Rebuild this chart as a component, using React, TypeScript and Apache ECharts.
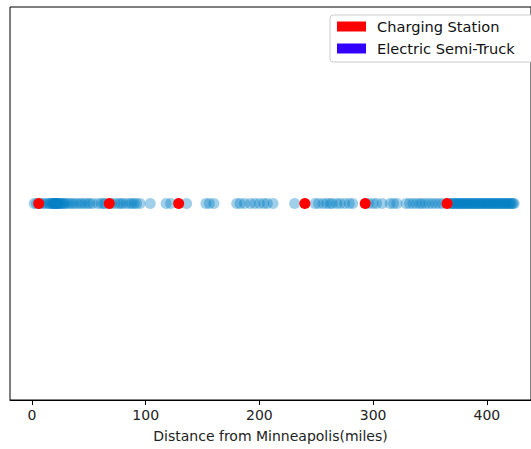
import React, { useEffect, useRef } from "react";
import * as echarts from "echarts";

const stationMiles: number[] = [6, 68, 129, 240, 293, 365];

const truckMiles: number[] = [
  2, 4, 6.5, 9, 11, 13, 15, 16, 17, 18, 18.5, 19, 20, 20.5, 21, 21.5, 22, 22.5, 23, 24,
  25, 25.5, 27, 28, 29, 31, 33, 35,
  37, 39.5, 42, 44, 46.5, 49, 51, 53.5, 58, 61, 63, 64.5,
  70, 73, 76, 78, 80, 83, 86, 88, 90, 92, 95, 104, 118, 122, 136,
  153, 156, 160, 180, 183, 187, 192, 196, 200, 204, 207, 212, 231,
  249, 252, 256, 259, 262, 264, 268, 271, 275, 279, 282,
  296, 300, 303, 308, 315, 318, 321, 329, 332, 335, 338, 341, 343, 346, 349, 352, 355, 358, 361,
  368, 369, 370, 371, 372, 373, 374, 375, 376, 377, 378, 379, 380, 381, 382, 383, 384,
  385, 386, 387, 388, 389, 390, 391, 392, 393, 394, 395, 396, 397, 398, 399, 400,
  401, 402, 403, 404, 405, 406, 407, 408, 409, 410, 411, 412, 413, 414, 415, 416,
  417, 418, 419, 420, 421, 422, 423, 424,
];

const xTicks: number[] = [0, 100, 200, 300, 400];
const xLabel = "Distance from Minneapolis(miles)";
const seriesNames = ["Charging Station", "Electric Semi-Truck"];

export default function App() {
  const ref = useRef<HTMLDivElement>(null);
  useEffect(() => {
    document.body.style.margin = "0";
    if (!ref.current) return;
    const chart = echarts.init(ref.current, undefined, { renderer: "svg" });
    const font = "'DejaVu Sans', sans-serif";
    chart.setOption({
      animation: false,
      backgroundColor: "#ffffff",
      textStyle: { fontFamily: font },
      grid: {
        left: 10,
        top: 7,
        width: 522,
        height: 393,
        show: true,
        borderColor: "#000",
        borderWidth: 1,
        backgroundColor: "transparent",
      },
      legend: {
        orient: "vertical",
        left: 330,
        top: 15,
        padding: [4, 30, 6, 7],
        itemWidth: 29,
        itemHeight: 10,
        itemGap: 7,
        borderColor: "#cccccc",
        borderWidth: 1,
        borderRadius: 3,
        backgroundColor: "#ffffff",
        icon: "rect",
        data: [
          { name: seriesNames[0], itemStyle: { color: "#ff0000", opacity: 1 } },
          { name: seriesNames[1], itemStyle: { color: "#3300ff", opacity: 1 } },
        ],
        textStyle: {
          fontFamily: font,
          fontSize: 14.6,
          color: "#111",
          lineHeight: 14,
          padding: [0, 0, 0, 6],
        },
      },
      xAxis: {
        type: "value",
        min: -19.3,
        max: 438.8,
        splitLine: { show: false },
        axisLine: { show: true, onZero: false, lineStyle: { color: "#000", width: 1 } },
        axisTick: {
          show: true,
          length: 5,
          lineStyle: { color: "#000" },
          customValues: xTicks,
        },
        axisLabel: {
          fontFamily: font,
          fontSize: 14,
          color: "#222",
          margin: 8,
          customValues: xTicks,
        },
        name: xLabel,
        nameLocation: "middle",
        nameGap: 29,
        nameTextStyle: {
          fontFamily: font,
          fontSize: 14,
          color: "#222",
        },
      },
      yAxis: {
        type: "value",
        min: -1,
        max: 1,
        show: false,
      },
      series: [
        {
          name: seriesNames[1],
          type: "scatter",
          symbolSize: 11,
          z: 2,
          itemStyle: { color: "#0580c6", opacity: 0.38 },
          data: truckMiles.map((m) => [m, 0]),
        },
        {
          name: seriesNames[0],
          type: "scatter",
          symbolSize: 11,
          z: 3,
          itemStyle: { color: "#ff0000", opacity: 1 },
          data: stationMiles.map((m) => [m, 0]),
        },
      ],
    });
    return () => chart.dispose();
  }, []);
  return <div ref={ref} style={{ width: 531, height: 449 }} />;
}
